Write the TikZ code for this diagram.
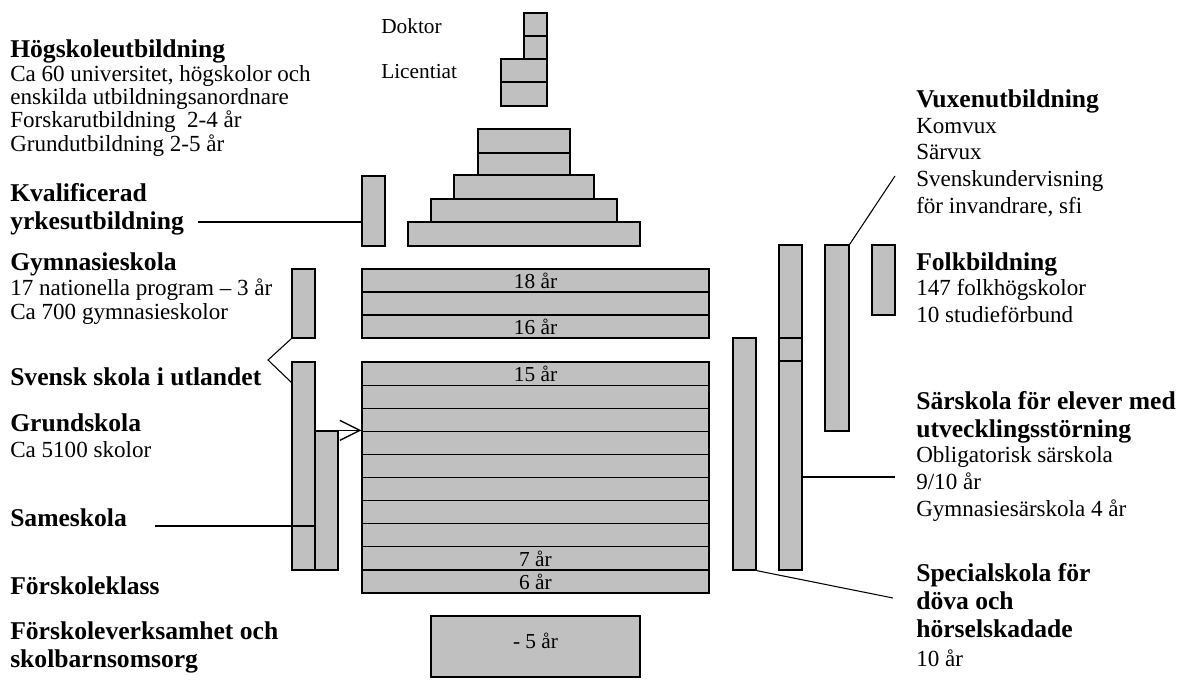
\documentclass[tikz,border=0pt]{standalone}
\usepackage{fontspec}
\setmainfont{Liberation Serif}
\usetikzlibrary{fit, arrows.meta}

\definecolor{barfill}{RGB}{192,192,192}
\newcommand\hdfont{\fontsize{19.2}{20.3}\selectfont\bfseries}
\newcommand\bdfont{\fontsize{17.3}{17.5}\selectfont}
\newcommand\rtfont{\fontsize{17.3}{19.9}\selectfont}
\newcommand\smfont{\fontsize{16}{18}\selectfont}

\tikzset{
  bar/.style={draw, fill=barfill, line width=0.9pt, inner sep=0pt},
  barline/.style={line width=0.9pt},
  link/.style={line width=0.8pt},
  % multi-line labels sit on the baseline of their last line
  lbl/.style={anchor=base west, inner sep=0pt, align=left},
  head/.style={lbl, font=\hdfont},
  yr/.style={inner sep=0pt, font=\smfont},
}

\begin{document}
\begin{tikzpicture}[x=0.75pt, y=-0.75pt]
  \useasboundingbox (0,0) rectangle (1192,686);

  % hogskola, forskarniva
  \node[bar, fit={(524,13) (547,36)}] (dok1) {};
  \node[bar, fit={(524,36) (547,59)}] (dok2) {};
  \node[bar, fit={(501,59) (547,82)}] (lic1) {};
  \node[bar, fit={(501,82) (547,106)}] (lic2) {};
  \node[lbl, font=\smfont] (doktor) at (381,33) {Doktor};
  \node[lbl, font=\smfont] (lic) at (381,78) {Licentiat};

  % hogskola, grundniva
  \node[bar, fit={(478,129) (570,153)}] (hs1) {};
  \node[bar, fit={(478,153) (570,175)}] (hs2) {};
  \node[bar, fit={(454,175) (594,199)}] (hs3) {};
  \node[bar, fit={(431,199) (617,222)}] (hs4) {};
  \node[bar, fit={(408,222) (640,246)}] (hs5) {};
  \node[bar, fit={(362,176) (385,246)}] (kvbox) {};

  % gymnasieskola
  \node[bar, fit={(292,269) (315,338)}] (gsbox) {};
  \node[bar, fit={(362,269) (709,338)}] (gystack) {};
  \foreach \r in {1,2}
    \draw[barline] (362,{269+\r*23}) -- (709,{269+\r*23});
  \node[yr] (y18) at (535.5,281) {18 år};
  \node[yr] (y16) at (535.5,327) {16 år};

  % grundskola
  \node[bar, fit={(292,362) (315,570)}] (svbox) {};
  \node[bar, fit={(315,431) (338,570)}] (sambox) {};
  \node[bar, fit={(362,362) (709,593)}] (grstack) {};
  \foreach \r in {1,...,9}
    \draw[barline] (362,{362+\r*23.1}) -- (709,{362+\r*23.1});
  \node[yr] (y15) at (535.5,374) {15 år};
  \node[yr] (y7) at (535.5,559) {7 år};
  \node[yr] (y6) at (535.5,582) {6 år};

  % forskola
  \node[bar, fit={(431,616) (640,677)}] (fsbox) {};
  \node[yr] (y5) at (535.5,641) {- 5 år};

  % right side bars
  \node[bar, fit={(733,338) (756,570)}] (spbox) {};
  \node[bar, fit={(779,245) (802,570)}] (srbox) {};
  \draw[barline] (779,338) -- (802,338);
  \draw[barline] (779,361) -- (802,361);
  \node[bar, fit={(825,245) (849,431)}] (vxbox) {};
  \node[bar, fit={(872,245) (895,315)}] (fbbox) {};

  % left labels
  \node[head] (hogsk) at (10,57) {Högskoleutbildning};
  \node[lbl, font=\bdfont] (hogskbody) at (10,151)
    {Ca 60 universitet, högskolor och\\enskilda utbildningsanordnare\\Forskarutbildning\ \ 2-4 år\\Grundutbildning 2-5 år};
  \node[head] (kval) at (10,229) {Kvalificerad\\yrkesutbildning};
  \node[head] (gymn) at (10,270) {Gymnasieskola};
  \node[lbl, font=\fontsize{17.3}{18}\selectfont] (gymnbody) at (10,319)
    {17 nationella program -- 3 år\\Ca 700 gymnasieskolor};
  \node[head] (svensk) at (10,385) {Svensk skola i utlandet};
  \node[head] (grund) at (10,431) {Grundskola};
  \node[lbl, font=\bdfont] (grundbody) at (10,457) {Ca 5100 skolor};
  \node[head] (same) at (10,526) {Sameskola};
  \node[head] (fklass) at (10,594) {Förskoleklass};
  \node[head] (fverk) at (10,667) {Förskoleverksamhet och\\skolbarnsomsorg};

  % right labels
  \node[head] (vux) at (916,107) {Vuxenutbildning};
  \node[lbl, font=\rtfont] (vuxbody) at (916,213)
    {Komvux\\Särvux\\Svenskundervisning\\för invandrare, sfi};
  \node[head] (folk) at (916,270) {Folkbildning};
  \node[lbl, font=\rtfont] (folkbody) at (916,322) {147 folkhögskolor\\10 studieförbund};
  \node[head] (sars) at (916,437) {Särskola för elever med\\utvecklingsstörning};
  \node[lbl, font=\rtfont] (sarsbody) at (916,516)
    {Obligatorisk särskola\\9/10 år\\Gymnasiesärskola 4 år};
  \node[head, font=\fontsize{19.2}{20.8}\selectfont\bfseries] (spec) at (916,637)
    {Specialskola för\\döva och\\hörselskadade};
  \node[lbl, font=\bdfont] (specbody) at (916,666) {10 år};

  % connectors
  \coordinate (kvpt) at (362,222);
  \draw[link] (198,222) -- (kvpt);
  \draw[link] ([xshift=21pt]same.base east) -- (svbox.east |- same.base);
  \coordinate (svtip) at (268,360);
  \draw[link] (gsbox.south west) -- (svtip) -- (292,383);
  \draw[line width=1pt, -{Straight Barb[length=15pt, width=15pt]}]
    (sambox.north west) -- (grstack.west |- sambox.north);
  \coordinate (vxend) at (895,176);
  \draw[link] (vxbox.north east) -- (vxend);
  \coordinate (srend) at (895,477);
  \draw[link] (srbox.east |- srend) -- (srend);
  \coordinate (spend) at (893,598);
  \draw[link] (spbox.south east) -- (spend);
\end{tikzpicture}
\end{document}
